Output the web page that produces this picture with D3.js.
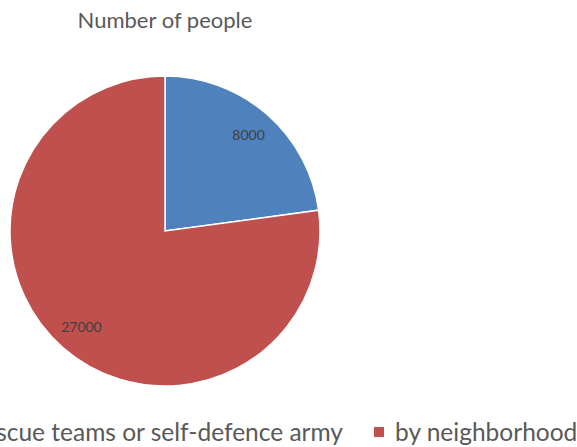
<!DOCTYPE html>
<html>
<head>
<meta charset="utf-8">
<script src="https://cdn.jsdelivr.net/npm/d3@7"></script>
<style>
  body { margin: 0; background: #fff; }
  svg { display: block; }
</style>
</head>
<body>
<div id="chart"></div>
<script>
// data
var categories = ["by rescue teams or self-defence army", "by neighborhood"];
var values = [8000, 27000];
var colors = ["#4F81BD", "#C0504D"];
var title = "Number of people";

var width = 577, height = 447;
var cx = 165, cy = 231, radius = 155;

var svg = d3.select("#chart")
  .append("svg")
    .attr("width", width)
    .attr("height", height);

// title
svg.append("text")
  .attr("x", cx)
  .attr("y", 28)
  .attr("text-anchor", "middle")
  .style("font-family", "Lato, 'Open Sans', sans-serif")
  .style("font-size", "22px")
  .style("fill", "#595959")
  .text(title);

var data = categories.map(function(c, i) { return {name: c, value: values[i]}; });

var pie = d3.pie()
  .sort(null)
  .value(function(d) { return d.value; });

var arc = d3.arc().innerRadius(0).outerRadius(radius);
var labelArc = d3.arc().innerRadius(127).outerRadius(127);

var g = svg.append("g")
  .attr("transform", "translate(" + cx + "," + cy + ")");

var slices = pie(data);

g.selectAll("path")
  .data(slices)
  .enter().append("path")
    .attr("d", arc)
    .attr("fill", function(d, i) { return colors[i]; })
    .attr("stroke", "#fff")
    .attr("stroke-width", 1.5);

g.selectAll("text.lbl")
  .data(slices)
  .enter().append("text")
    .attr("class", "lbl")
    .attr("transform", function(d) { return "translate(" + labelArc.centroid(d) + ")"; })
    .attr("text-anchor", "middle")
    .attr("dy", "0.35em")
    .style("font-family", "Lato, 'Open Sans', sans-serif")
    .style("font-size", "14px")
    .style("fill", "#404040")
    .text(function(d) { return d.data.value; });

// legend (wider than the canvas, clipped like the original)
var legY = 441;
var item2x = 374;
var legFont = "24.5px";

var leg = svg.append("g").attr("class", "legend");

// second item
leg.append("rect")
  .attr("x", item2x)
  .attr("y", legY - 14)
  .attr("width", 10)
  .attr("height", 10)
  .attr("fill", colors[1]);
leg.append("text")
  .attr("x", item2x + 21)
  .attr("y", legY)
  .style("font-family", "Lato, 'Open Sans', sans-serif")
  .style("font-size", legFont)
  .style("fill", "#595959")
  .text(categories[1]);

// first item, ends before the second
var t1 = leg.append("text")
  .attr("x", 343)
  .attr("y", legY)
  .attr("text-anchor", "end")
  .style("font-family", "Lato, 'Open Sans', sans-serif")
  .style("font-size", legFont)
  .style("fill", "#595959")
  .text(categories[0]);

var w1 = t1.node().getComputedTextLength();
leg.append("rect")
  .attr("x", 343 - w1 - 21)
  .attr("y", legY - 14)
  .attr("width", 10)
  .attr("height", 10)
  .attr("fill", colors[0]);
</script>
</body>
</html>
